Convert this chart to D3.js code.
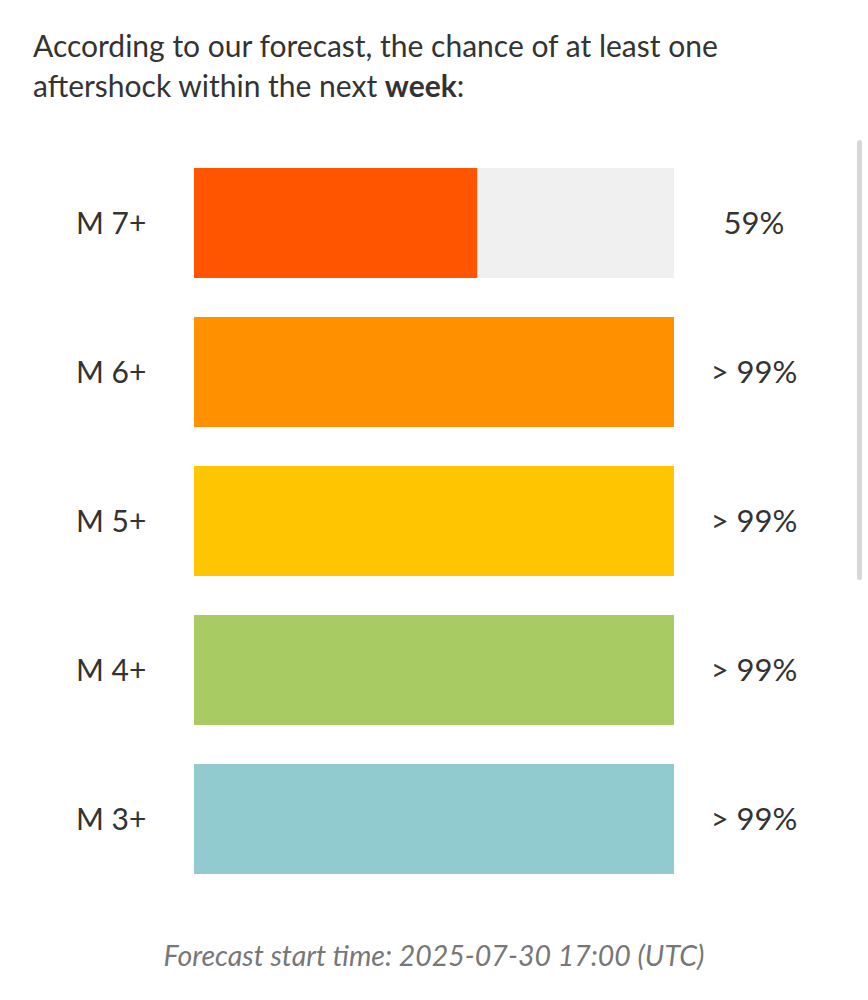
<!DOCTYPE html>
<html><head><meta charset="utf-8">
<script src="https://cdn.jsdelivr.net/npm/d3@7"></script>
<style>body{margin:0;background:#fff}</style></head>
<body><script>
const categories = ["M 7+","M 6+","M 5+","M 4+","M 3+"];
const values = [59,100,100,100,100];
const valueLabels = ["59%","> 99%","> 99%","> 99%","> 99%"];
const colors = ["#ff5500","#ff9100","#ffc500","#a8cb64","#92cbcf"];

const font = "Lato, 'Noto Sans', sans-serif";
const svg = d3.select("body").append("svg").attr("width",868).attr("height",1000);
const title = svg.append("text").attr("font-family",font).attr("font-size",30).attr("fill","#333");
title.append("tspan").attr("x",33).attr("y",57).text("According to our forecast, the chance of at least one");
const t2 = title.append("tspan").attr("x",33).attr("y",97);
t2.append("tspan").text("aftershock within the next ");
t2.append("tspan").attr("font-weight","bold").text("week");
t2.append("tspan").text(":");

const y = d3.scaleBand().domain(categories).range([168,874]).paddingInner(39/149).paddingOuter(0);
const x = d3.scaleLinear().domain([0,100]).range([194,674]);
const bh = y.bandwidth();

svg.append("rect").attr("x",857).attr("y",140).attr("width",5).attr("height",440).attr("rx",2.5).attr("fill","#d8d8d8");

const g = svg.selectAll("g.row").data(categories).join("g");
g.append("rect").attr("x",x(0)).attr("y",d=>y(d)).attr("width",x(100)-x(0)).attr("height",bh).attr("fill","#f0f0f0");
g.append("rect").attr("x",x(0)).attr("y",d=>y(d)).attr("width",(d,i)=>x(values[i])-x(0)).attr("height",bh).attr("fill",(d,i)=>colors[i]);
g.append("text").attr("x",76).attr("y",d=>y(d)+bh/2).attr("dy","0.35em").attr("font-family",font).attr("font-size",30).attr("fill","#333").text(d=>d);
g.append("text").attr("x",754).attr("y",d=>y(d)+bh/2).attr("dy","0.35em").attr("text-anchor","middle").attr("font-family",font).attr("font-size",31).attr("fill","#333").text((d,i)=>valueLabels[i]);

svg.append("text").attr("x",434).attr("y",966).attr("text-anchor","middle").attr("font-family",font).attr("font-style","italic").attr("font-size",28.5).attr("fill","#777").text("Forecast start time: 2025-07-30 17:00 (UTC)");
</script></body></html>
